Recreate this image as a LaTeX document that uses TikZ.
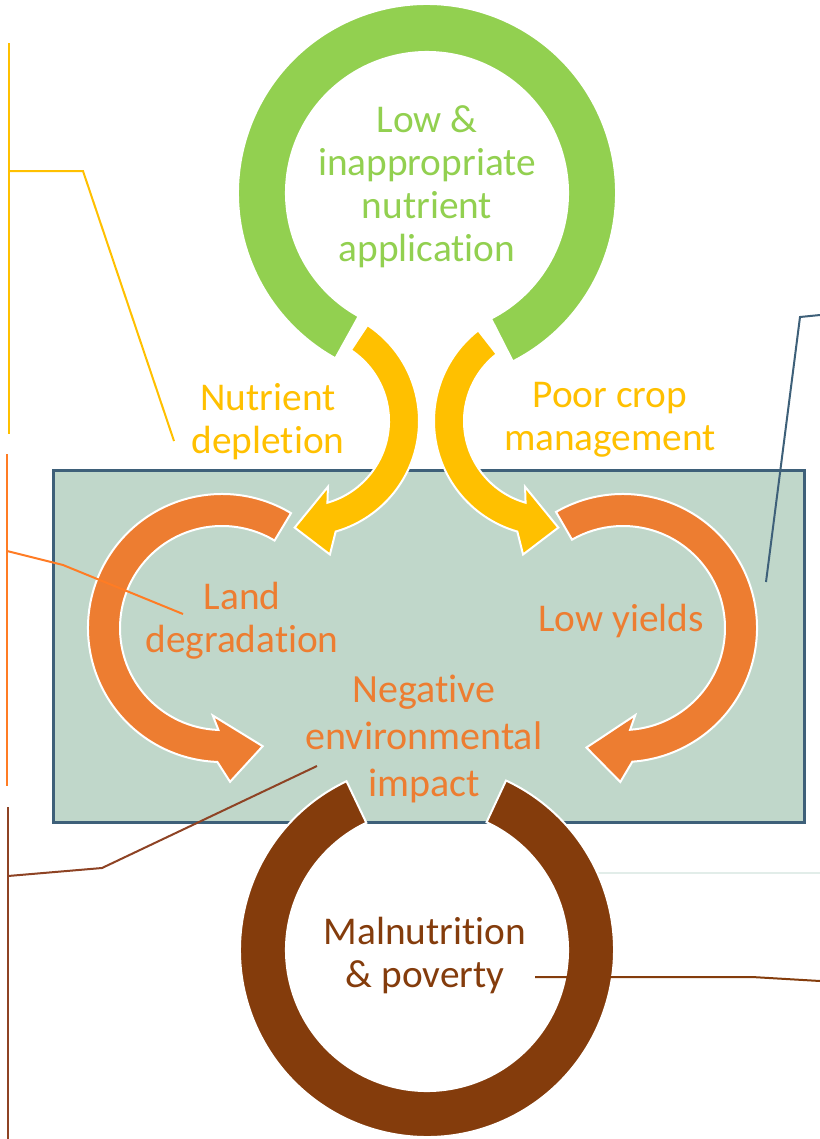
\documentclass[tikz,border=0pt]{standalone}
\usepackage{fontspec}
\setmainfont{Carlito}[Ligatures=NoCommon]
\usetikzlibrary{calc}
\definecolor{cgreen}{HTML}{92D050}
\definecolor{cyellow}{HTML}{FFC000}
\definecolor{corange}{HTML}{ED7D31}
\definecolor{cbrown}{HTML}{843C0C}
\definecolor{cteal}{HTML}{C0D7CA}
\definecolor{cbox}{HTML}{3E6079}
\definecolor{clineor}{HTML}{FF7C24}
\definecolor{clinebr}{HTML}{8E4324}
\definecolor{cfaint}{HTML}{E2EDE9}
\tikzset{
 lbl/.style={align=center, inner sep=0pt, font=\fontsize{29.5}{32.25}\selectfont},
 callout/.style={line width=1.5pt, line join=miter},
 band/.style={draw=white, line width=1.5pt, line join=miter},
}
% #1 fill, #2 cx, #3 cy, #4 r, #5 half band, #6 start angle, #7 end angle, #8 sign
\newcommand\cyarrow[8]{%
 \pgfmathsetmacro\cyRo{#4+#5}\pgfmathsetmacro\cyRi{#4-#5}%
 \pgfmathsetmacro\cyRb{#4+36}\pgfmathsetmacro\cyRc{#4-30}\pgfmathsetmacro\cyRt{#4+7}%
 \pgfmathsetmacro\cyAb{#7+(#8)*5}\pgfmathsetmacro\cyAc{#7-(#8)*4}\pgfmathsetmacro\cyAt{#7+(#8)*21}%
 \path[band, fill=#1] ($(#2,#3)+(#6:\cyRo)$) arc[start angle=#6, end angle=#7, radius=\cyRo]
  -- ($(#2,#3)+(\cyAb:\cyRb)$) -- ($(#2,#3)+(\cyAt:\cyRt)$) -- ($(#2,#3)+(\cyAc:\cyRc)$)
  -- ($(#2,#3)+(#7:\cyRi)$) arc[start angle=#7, end angle=#6, radius=\cyRi] -- cycle;}
\begin{document}
\begin{tikzpicture}[x=0.75pt,y=0.75pt]
\useasboundingbox[fill=white] (0,0) rectangle (820,-1139);
% central box
\path[draw=cbox, line width=2.25pt, fill=cteal] (53,-470) rectangle (804,-822);
% faint line
\coordinate (f1) at (587,-873); \coordinate (f2) at (820,-873);
\draw[line width=1.2pt, cfaint] (f1) -- (f2);
% green ring
\coordinate (G) at (427,-193);
\path[band, fill=cgreen] ($(G)+(-63:189)$) arc[start angle=-63, end angle=241, radius=189]
  -- ($(G)+(241:141)$) arc[start angle=241, end angle=-63, radius=141] -- cycle;
% yellow arrows
\cyarrow{cyellow}{304}{-421}{100}{15}{56.5}{-74}{-1}
\cyarrow{cyellow}{549}{-421}{100}{15}{128}{254}{1}
% orange arrows
\cyarrow{corange}{222}{-628}{118}{16}{59}{268}{1}
\cyarrow{corange}{623}{-628}{118}{16}{120}{-86}{-1}
% brown ring
\coordinate (B) at (427,-950);
\path[band, fill=cbrown] ($(B)+(115.5:187)$) arc[start angle=115.5, end angle=425, radius=187]
  -- ($(B)+(425:141)$) arc[start angle=425, end angle=115.5, radius=141] -- cycle;
% labels
\node[lbl, text=cgreen] (tgreen) at (427,-187) {Low \&\\inappropriate\\nutrient\\application};
\node[lbl, text=cyellow] (tnut) at (268,-422) {Nutrient\\depletion};
\node[lbl, text=cyellow] (tpoor) at (610,-420) {Poor crop\\management};
\node[lbl, text=corange] (tland) at (242,-621) {Land\\degradation};
\node[lbl, text=corange] (tlow) at (621,-621) {Low yields};
\node[lbl, text=corange, font=\fontsize{30}{35.5}\selectfont] (tneg) at (424,-739) {Negative\\environmental\\impact};
\node[lbl, text=cbrown] (tmal) at (425,-956) {Malnutrition\\\& poverty};
% callout lines
\coordinate (y1) at (9,-43); \coordinate (y2) at (9,-434);
\coordinate (y3) at (9,-171); \coordinate (y4) at (83,-171); \coordinate (y5) at (174,-441);
\draw[callout, cyellow] (y1) -- (y2);
\draw[callout, cyellow] (y3) -- (y4) -- (y5);
\coordinate (o1) at (7,-454); \coordinate (o2) at (7,-786);
\coordinate (o3) at (7,-551); \coordinate (o4) at (63,-565); \coordinate (o5) at (183,-614);
\draw[callout, clineor] (o1) -- (o2);
\draw[callout, clineor] (o3) -- (o4) -- (o5);
\coordinate (b1) at (8,-807); \coordinate (b2) at (8,-1139);
\coordinate (b3) at (8,-876); \coordinate (b4) at (102,-868); \coordinate (b5) at (317,-766);
\draw[callout, clinebr] (b1) -- (b2);
\draw[callout, clinebr] (b3) -- (b4) -- (b5);
\coordinate (m1) at (535,-977); \coordinate (m2) at (752,-977); \coordinate (m3) at (820,-981);
\draw[callout, cbrown] (m1) -- (m2) -- (m3);
\coordinate (p1) at (766,-582); \coordinate (p2) at (800,-317); \coordinate (p3) at (820,-315);
\draw[callout, cbox] (p1) -- (p2) -- (p3);
\end{tikzpicture}
\end{document}
